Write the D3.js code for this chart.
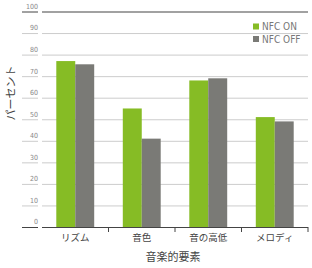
<!DOCTYPE html>
<html>
<head>
<meta charset="utf-8">
<script src="https://cdn.jsdelivr.net/npm/d3@7"></script>
<style>
  body { margin: 0; background: #fff; }
  svg { display: block; }
</style>
</head>
<body>
<svg id="chart" width="312" height="268"></svg>
<script>
const categories = ["リズム", "音色", "音の高低", "メロディ"]
const seriesNames = ["NFC ON", "NFC OFF"]
const nfcOn = [77, 55, 68, 51]
const nfcOff = [75.5, 41, 69, 49]
const yTicks = [0, 10, 20, 30, 40, 50, 60, 70, 80, 90, 100]
const colors = ["#86bc25", "#7a7a76"]

const svg = d3.select("#chart")
const plotLeft = 42, plotRight = 308, plotTop = 11.5, plotBottom = 227

const x = d3.scaleBand().domain(categories).range([plotLeft, plotRight]).paddingInner(0.43).paddingOuter(0.215)
const xs = d3.scaleBand().domain(seriesNames).range([0, x.bandwidth()])
const y = d3.scaleLinear().domain([0, 100]).range([plotBottom, plotTop])

const labelFont = "'Liberation Sans Narrow', 'DejaVu Sans Condensed', sans-serif"
const jpFont = "'Noto Sans CJK JP', sans-serif"
const isEdge = d => d === 100 || d === 0

// grid lines
svg.append("g")
  .attr("transform", `translate(${plotLeft},0)`)
  .call(d3.axisRight(y).tickValues(yTicks).tickSize(plotRight - plotLeft).tickFormat(""))
  .call(g => g.select(".domain").remove())
  .call(g => g.selectAll(".tick line")
    .attr("stroke", d => isEdge(d) ? "#444" : "#ccc")
    .attr("stroke-width", d => isEdge(d) ? 1.2 : 1))

// left ticks with labels sitting above them
svg.append("g")
  .attr("transform", "translate(38,0)")
  .call(d3.axisLeft(y).tickValues(yTicks).tickSize(16).tickPadding(1))
  .call(g => g.select(".domain").remove())
  .call(g => g.selectAll(".tick line").attr("stroke", d => isEdge(d) ? "#444" : "#ccc"))
  .call(g => g.selectAll(".tick text")
    .attr("x", 0).attr("dy", "-0.45em")
    .attr("fill", "#888").style("font-family", labelFont).style("font-size", "7px"))

// bars
const rows = categories.map((c, i) => ({ cat: c, vals: [nfcOn[i], nfcOff[i]] }))
svg.append("g").selectAll("g").data(rows).join("g")
  .attr("transform", d => `translate(${x(d.cat)},0)`)
  .selectAll("rect").data(d => d.vals.map((v, j) => ({ key: seriesNames[j], v, j })))
  .join("rect")
  .attr("x", d => xs(d.key))
  .attr("width", xs.bandwidth())
  .attr("y", d => y(d.v))
  .attr("height", d => y(0) - y(d.v))
  .attr("fill", d => colors[d.j])

// x axis
svg.append("g")
  .attr("transform", `translate(0,${plotBottom})`)
  .call(d3.axisBottom(x).tickSize(0).tickPadding(7))
  .call(g => g.select(".domain").remove())
  .call(g => g.selectAll(".tick text").attr("fill", "#444")
    .style("font-family", jpFont).style("font-size", "9.5px"))

// x tick marks between categories
const seps = categories.slice(1).map(c => x(c) - x.step() * x.paddingInner() / 2)
seps.push(plotRight)
svg.append("g").selectAll("line").data(seps).join("line")
  .attr("x1", d => d).attr("x2", d => d)
  .attr("y1", plotBottom).attr("y2", plotBottom + 5)
  .attr("stroke", "#444")

// axis titles
svg.append("text")
  .attr("transform", "translate(11,93) rotate(-90)")
  .attr("text-anchor", "middle").attr("dy", "0.35em")
  .attr("fill", "#444").style("font-family", jpFont).style("font-size", "11px")
  .text("パーセント")
svg.append("text")
  .attr("x", 173).attr("y", 257).attr("dy", "0.35em")
  .attr("text-anchor", "middle")
  .attr("fill", "#444").style("font-family", jpFont).style("font-size", "11px")
  .text("音楽的要素")

// legend
const legend = svg.append("g").selectAll("g").data(seriesNames).join("g")
  .attr("transform", (d, i) => `translate(253,${26.5 + i * 12.5})`)
legend.append("rect").attr("x", 0).attr("y", -3).attr("width", 6).attr("height", 6)
  .attr("fill", (d, i) => colors[i])
legend.append("text").attr("x", 9).attr("dy", "0.35em")
  .attr("fill", "#777").style("font-family", labelFont).style("font-size", "10px")
  .text(d => d)
</script>
</body>
</html>
